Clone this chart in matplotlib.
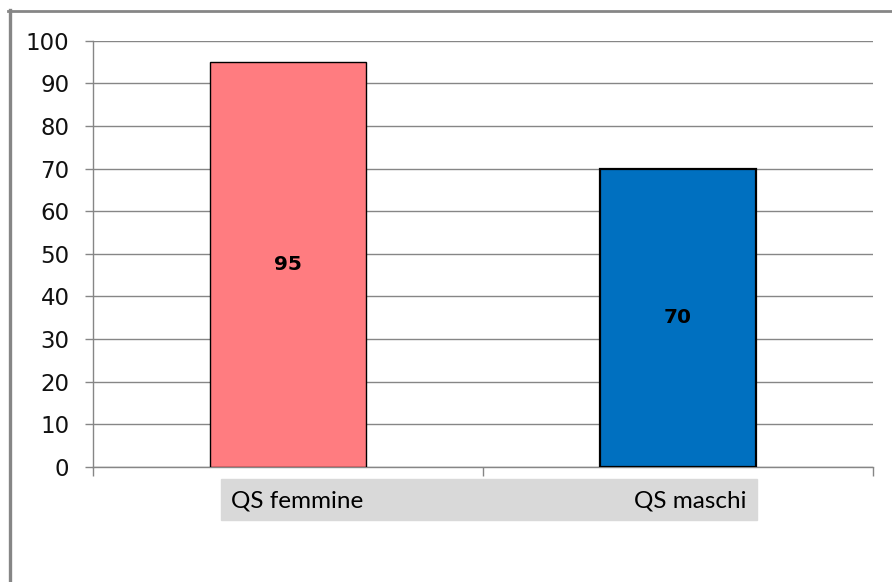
import numpy as np
import matplotlib
matplotlib.use("Agg")
import matplotlib.pyplot as plt
from matplotlib.patches import Rectangle
from matplotlib.lines import Line2D

categorie = ["QS femmine", "QS maschi"]
valori = [95, 70]
colori = ["#FF7C80", "#0070C0"]
y_ticks = [0, 10, 20, 30, 40, 50, 60, 70, 80, 90, 100]

grigio = "#868686"

fig = plt.figure(figsize=(8.92, 5.82), dpi=100)
ax = fig.add_axes([0.1043, 0.1976, 0.8744, 0.7325])

x = np.arange(len(categorie))
barre = ax.bar(x, valori, width=0.4, color=colori, edgecolor="black", zorder=3)
barre[0].set_linewidth(1.0)
barre[1].set_linewidth(1.6)
ax.bar_label(barre, label_type="center", fontsize=14.5, fontweight="bold",
             family="DejaVu Sans")

ax.set_xlim(-0.5, len(categorie) - 0.5)
ax.set_ylim(0, 100)
ax.set_yticks(y_ticks)
ax.set_yticklabels([str(v) for v in y_ticks], fontsize=16.5, family="DejaVu Sans",
                   color="#111111")
ax.yaxis.grid(True, color=grigio, linewidth=1.0, zorder=0)

ax.set_xticks(np.arange(-0.5, len(categorie), 1.0))
ax.set_xticklabels([])
ax.tick_params(axis="x", length=6.5, width=1.0, color=grigio)
ax.tick_params(axis="y", length=6, width=1.0, color=grigio, pad=11)

for s in ["top", "right"]:
    ax.spines[s].set_visible(False)
for s in ["left", "bottom"]:
    ax.spines[s].set_color(grigio)
    ax.spines[s].set_linewidth(1.0)

# fascia grigia con le etichette delle categorie
fig.patches.append(Rectangle((221 / 892, (582 - 520) / 582), 536 / 892, 41 / 582,
                             transform=fig.transFigure, color="#D9D9D9", zorder=0))
fig.text(231 / 892, (582 - 501) / 582, categorie[0], ha="left", va="center",
         fontsize=17.5, family="Lato")
fig.text(746 / 892, (582 - 501) / 582, categorie[1], ha="right", va="center",
         fontsize=17.5, family="Lato")

# bordo esterno
fig.lines.append(Line2D([9.5 / 892, 9.5 / 892], [0, (582 - 10) / 582],
                        transform=fig.transFigure, color=grigio, linewidth=2.4))
fig.lines.append(Line2D([8 / 892, 1], [(582 - 11) / 582, (582 - 11) / 582],
                        transform=fig.transFigure, color=grigio, linewidth=2.0))

fig.savefig("out.png", dpi=100)
